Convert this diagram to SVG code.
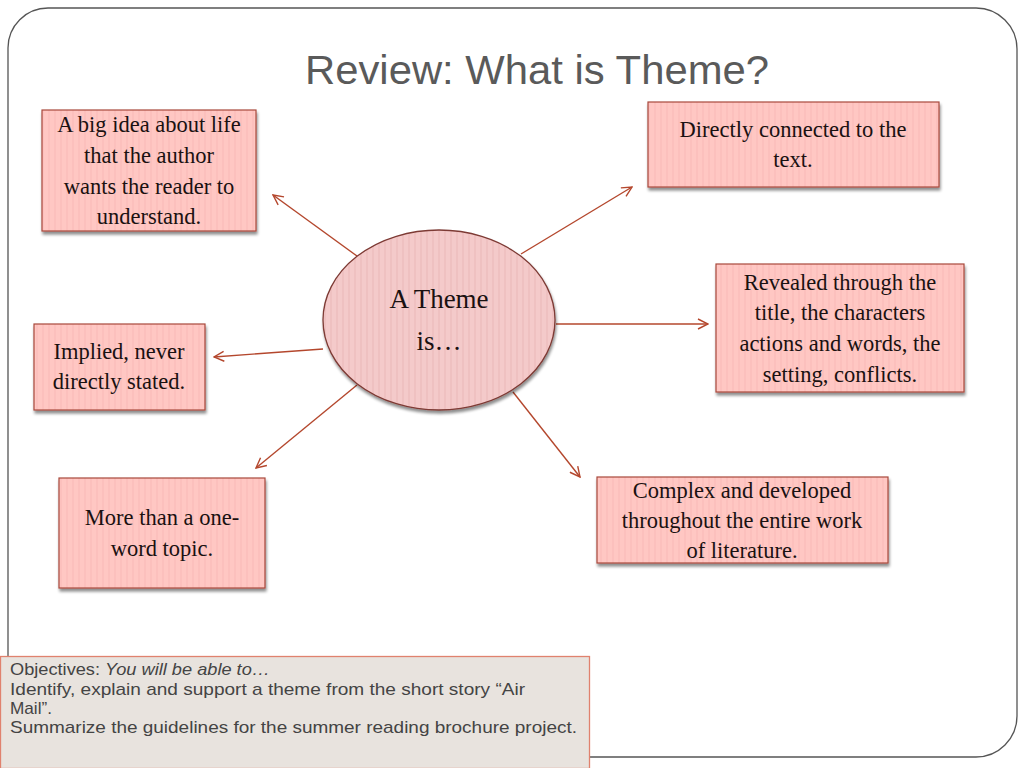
<svg xmlns="http://www.w3.org/2000/svg" width="1024" height="768" viewBox="0 0 1024 768">
<defs>
<pattern id="stripe" width="6" height="10" patternUnits="userSpaceOnUse">
<rect width="6" height="10" fill="#ffc7c3"/>
<rect x="0" width="2" height="10" fill="#fcc0bd"/>
</pattern>
<pattern id="stripe2" width="6" height="10" patternUnits="userSpaceOnUse">
<rect width="6" height="10" fill="#f4caca"/>
<rect x="0" width="2" height="10" fill="#efc1c1"/>
</pattern>
<filter id="sh" x="-10%" y="-10%" width="120%" height="130%">
<feGaussianBlur in="SourceAlpha" stdDeviation="1.5"/>
<feOffset dx="1" dy="3" result="b"/>
<feComponentTransfer><feFuncA type="linear" slope="0.45"/></feComponentTransfer>
<feMerge><feMergeNode/><feMergeNode in="SourceGraphic"/></feMerge>
</filter>
<marker id="arr" viewBox="0 0 12 12" refX="11" refY="6" markerWidth="12" markerHeight="12" markerUnits="userSpaceOnUse" orient="auto">
<path d="M1,1 L11,6 L1,11" fill="none" stroke="#b4472d" stroke-width="1.4"/>
</marker>
<style>
.box{fill:url(#stripe);stroke:#a8493c;stroke-width:1.2;filter:url(#sh)}
.t{font-family:"Liberation Serif","Times New Roman",serif;font-size:22.5px;fill:#1a1111;text-anchor:middle}
.big{font-size:27px}
.c{stroke:#b4472d;stroke-width:1.4;fill:none;marker-end:url(#arr)}
.obj{font-family:"Liberation Sans",Arial,sans-serif;font-size:17px;fill:#444}
</style>
</defs>
<rect width="1024" height="768" fill="#fff"/>
<path d="M48,8 H976 A41,41 0 0 1 1017,49 V716 A41,41 0 0 1 976,757 H48 A40,40 0 0 1 8,717 V48 A40,40 0 0 1 48,8 Z" fill="#fff" stroke="#555" stroke-width="1.3"/>
<text x="537" y="84" font-family="Liberation Sans,Arial,sans-serif" font-size="40" fill="#5a5a5a" text-anchor="middle" textLength="464" lengthAdjust="spacingAndGlyphs">Review: What is Theme?</text>
<g id="connectors">
<line class="c" x1="357" y1="256" x2="273" y2="195"/>
<line class="c" x1="521" y1="254" x2="632" y2="187"/>
<line class="c" x1="556" y1="324" x2="708" y2="324"/>
<line class="c" x1="323" y1="349" x2="214" y2="357"/>
<line class="c" x1="357" y1="385" x2="256" y2="468"/>
<line class="c" x1="513" y1="392" x2="580" y2="477"/>
</g>
<g id="center">
<ellipse cx="439" cy="320" rx="116" ry="90" fill="url(#stripe2)" stroke="#7d3a34" stroke-width="1.3" filter="url(#sh)"/>
<text class="t big" x="439" y="308">A Theme</text>
<text class="t big" x="439" y="350">is…</text>
</g>
<g id="n1">
<rect class="box" x="42" y="110" width="214" height="121"/>
<text class="t" x="149" y="132">A big idea about life</text>
<text class="t" x="149" y="163">that the author</text>
<text class="t" x="149" y="194">wants the reader to</text>
<text class="t" x="149" y="224">understand.</text>
</g>
<g id="n2">
<rect class="box" x="648" y="102" width="291" height="85"/>
<text class="t" x="793" y="137">Directly connected to the</text>
<text class="t" x="793" y="167">text.</text>
</g>
<g id="n3">
<rect class="box" x="716" y="264" width="248" height="128"/>
<text class="t" x="840" y="290">Revealed through the</text>
<text class="t" x="840" y="320">title, the characters</text>
<text class="t" x="840" y="351">actions and words, the</text>
<text class="t" x="840" y="382">setting, conflicts.</text>
</g>
<g id="n4">
<rect class="box" x="34" y="324" width="171" height="86"/>
<text class="t" x="119" y="359">Implied, never</text>
<text class="t" x="119" y="389">directly stated.</text>
</g>
<g id="n5">
<rect class="box" x="59" y="478" width="206" height="110"/>
<text class="t" x="162" y="525">More than a one-</text>
<text class="t" x="162" y="556">word topic.</text>
</g>
<g id="n6">
<rect class="box" x="597" y="477" width="291" height="86"/>
<text class="t" x="742" y="498">Complex and developed</text>
<text class="t" x="742" y="528">throughout the entire work</text>
<text class="t" x="742" y="558">of literature.</text>
</g>
<g id="objectives">
<rect x="0.5" y="656.5" width="589" height="112" fill="#e8e3de" stroke="#e0826e" stroke-width="1.3"/>
<text class="obj" x="10" y="675" textLength="260" lengthAdjust="spacingAndGlyphs">Objectives: <tspan font-style="italic">You will be able to…</tspan></text>
<text class="obj" x="10" y="695" textLength="515" lengthAdjust="spacingAndGlyphs">Identify, explain and support a theme from the short story “Air</text>
<text class="obj" x="10" y="714" textLength="42" lengthAdjust="spacingAndGlyphs">Mail”.</text>
<text class="obj" x="10" y="733" textLength="567" lengthAdjust="spacingAndGlyphs">Summarize the guidelines for the summer reading brochure project.</text>
</g>
</svg>
